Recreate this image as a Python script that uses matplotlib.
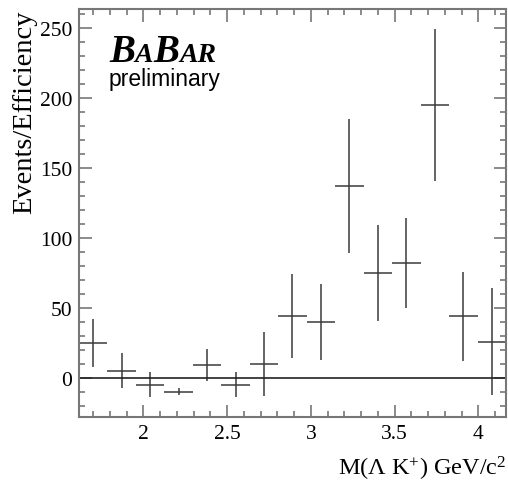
import numpy as np
import matplotlib
matplotlib.use("Agg")
import matplotlib.pyplot as plt
from matplotlib.offsetbox import TextArea, HPacker, VPacker, AnchoredOffsetbox
from matplotlib.ticker import MultipleLocator

# M(Lambda K+) bin centres (GeV/c^2), yields and errors
mass = [1.70, 1.87, 2.04, 2.21, 2.38, 2.55, 2.72, 2.89, 3.06, 3.23, 3.40, 3.57, 3.74, 3.91, 4.08]
yields = [25, 5, -5, -10, 9, -5, 10, 44, 40, 137, 75, 82, 195, 44, 26]
errors = [17, 12.5, 9, 2.5, 11.5, 9, 23, 30, 27, 48, 34, 32, 54, 32, 38]
half_bin = 0.085

plt.rcParams['font.family'] = ['Liberation Serif', 'DejaVu Serif']
plt.rcParams['mathtext.fontset'] = 'custom'
plt.rcParams['mathtext.rm'] = 'Liberation Serif'
plt.rcParams['mathtext.it'] = 'Liberation Serif:italic'

fig = plt.figure(figsize=(5.08, 4.85), dpi=100)
ax = fig.add_axes([0.1555, 0.138, 0.8405, 0.841])

ax.errorbar(mass, yields, xerr=half_bin, yerr=errors, fmt='none',
            ecolor='#3a3a3a', elinewidth=1.1, capsize=0)
ax.axhline(0, color='#222222', lw=1.2)

ax.set_xlim(1.615, 4.165)
ax.set_ylim(-28, 263.5)

ax.xaxis.set_major_locator(MultipleLocator(0.5))
ax.xaxis.set_minor_locator(MultipleLocator(0.1))
ax.yaxis.set_major_locator(MultipleLocator(50))
ax.yaxis.set_minor_locator(MultipleLocator(10))
ax.xaxis.set_major_formatter(plt.FuncFormatter(lambda v, p: f"{v:g}"))

ax.tick_params(which='both', direction='in', top=True, right=True, color='#777777', width=1.2)
ax.tick_params(which='major', length=9, labelsize=15.5, pad=5)
ax.tick_params(which='minor', length=4)
for s in ax.spines.values():
    s.set_color('#777777')
    s.set_linewidth(1.5)

ax.set_ylabel("Events/Efficiency", fontsize=20.5, loc='top', labelpad=2)
ax.set_xlabel(r"M($\Lambda$ K$^{+}$) GeV/c$^{2}$", fontsize=17.5, loc='right', labelpad=8)

# BaBar logo
big = dict(fontsize=28, fontweight='bold', fontstyle='italic', family='Liberation Serif')
small = dict(fontsize=20, fontweight='bold', fontstyle='italic', family='Liberation Serif')
logo = HPacker(children=[TextArea("B", textprops=big), TextArea("A", textprops=small),
                         TextArea("B", textprops=big), TextArea("AR", textprops=small)],
               align="baseline", pad=0, sep=0)
prelim = TextArea("preliminary", textprops=dict(fontsize=16.5, family='Liberation Sans'))
box = VPacker(children=[logo, prelim], align="left", pad=0, sep=-2)
anchored = AnchoredOffsetbox(loc='upper left', child=box, pad=0, frameon=False,
                             bbox_to_anchor=(0.07, 0.942), bbox_transform=ax.transAxes,
                             borderpad=0)
ax.add_artist(anchored)

fig.savefig("out.png", dpi=100)
